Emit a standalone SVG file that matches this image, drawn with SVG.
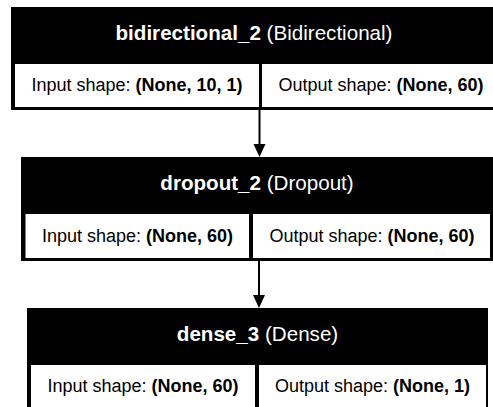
<svg xmlns="http://www.w3.org/2000/svg" width="493" height="407" viewBox="0 0 493 407">
<style>
.frame{fill:#000}
.cell{fill:#fff}
.hd{font-family:"Liberation Sans",Arial,sans-serif;font-size:20.6px;fill:#fff;text-anchor:middle}
.tx{font-family:"Liberation Sans",Arial,sans-serif;font-size:18px;fill:#000;text-anchor:middle}
.b{font-weight:bold}
.edge{stroke:#000;stroke-width:2;fill:none}
.head{fill:#000}
</style>
<rect width="493" height="407" fill="#fff"/>
<g id="bidirectional_2">
<rect class="frame" x="11" y="7" width="487" height="103"/>
<rect class="cell" x="15" y="64" width="244" height="43"/>
<rect class="cell" x="262" y="64" width="232" height="43"/>
<text class="hd" x="254" y="40"><tspan class="b">bidirectional_2</tspan> (Bidirectional)</text>
<text class="tx" x="137" y="91">Input shape: <tspan class="b">(None, 10, 1)</tspan></text>
<text class="tx" x="381" y="91">Output shape: <tspan class="b">(None, 60)</tspan></text>
</g>
<g id="dropout_2">
<rect class="frame" x="21" y="157" width="472" height="104"/>
<rect class="cell" x="25.5" y="214" width="223.5" height="44"/>
<rect class="cell" x="253" y="214" width="237" height="44"/>
<text class="hd" x="257" y="190"><tspan class="b">dropout_2</tspan> (Dropout)</text>
<text class="tx" x="137.5" y="241.5">Input shape: <tspan class="b">(None, 60)</tspan></text>
<text class="tx" x="372" y="241.5">Output shape: <tspan class="b">(None, 60)</tspan></text>
</g>
<g id="dense_3">
<rect class="frame" x="27" y="308" width="461" height="104"/>
<rect class="cell" x="31" y="365" width="224" height="44"/>
<rect class="cell" x="259" y="365" width="227" height="44"/>
<text class="hd" x="257.5" y="341"><tspan class="b">dense_3</tspan> (Dense)</text>
<text class="tx" x="143" y="392">Input shape: <tspan class="b">(None, 60)</tspan></text>
<text class="tx" x="372.5" y="392">Output shape: <tspan class="b">(None, 1)</tspan></text>
</g>
<g id="connectors">
<line class="edge" x1="259.5" y1="110" x2="259.5" y2="145"/>
<polygon class="head" points="253.5,144 265.5,144 259.5,157"/>
<line class="edge" x1="259" y1="261" x2="259" y2="296"/>
<polygon class="head" points="253,295 265,295 259,308"/>
</g>
</svg>
